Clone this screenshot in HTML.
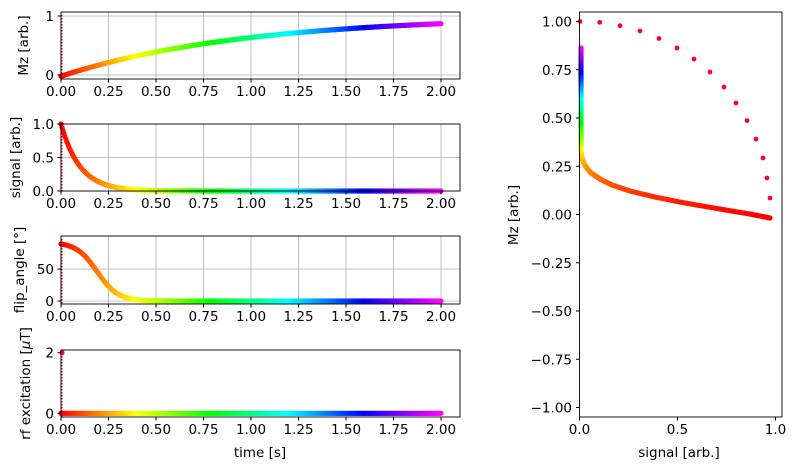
<!DOCTYPE html>
<html><head><meta charset="utf-8"><style>
body{margin:0;background:#fff}
svg{display:block;font-family:"DejaVu Sans","Liberation Sans",sans-serif;font-size:13.5px}
</style></head><body>
<svg id="s" width="793" height="470" xmlns="http://www.w3.org/2000/svg"></svg>
<script>
const S=document.getElementById('s');let h='';
function hsv(f){const hh=f*5,x=1-Math.abs(hh%2-1);let r,g,b;
if(hh<1)[r,g,b]=[1,x,0];else if(hh<2)[r,g,b]=[x,1,0];else if(hh<3)[r,g,b]=[0,1,x];else if(hh<4)[r,g,b]=[0,x,1];else if(hh<5)[r,g,b]=[x,0,1];else[r,g,b]=[1,0,1];
return `rgb(${Math.round(r*255)},${Math.round(g*255)},${Math.round(b*255)})`;}
const X=t=>61+t*190;
const panels=[
 {top:12,bot:79,y:v=>75-v*59,ticks:[[0,'0'],[1,'1']],grid:true,lab:'Mz [arb.]',lx:28,f:t=>1-1.02*Math.exp(-t/0.97)},
 {top:124,bot:191,y:v=>191-v*67,ticks:[[0,'0.0'],[0.5,'0.5'],[1,'1.0']],grid:true,lab:'signal [arb.]',lx:20,f:t=>Math.exp(-t/0.1)},
 {top:236,bot:304,y:v=>301-v*0.64,ticks:[[0,'0'],[50,'50']],grid:true,lab:'flip_angle [°]',lx:24,f:t=>92/(1+Math.exp((t-0.19)/0.055))},
 {top:350,bot:417,y:v=>413.3-v*30.3,ticks:[[0,'0'],[2,'2']],grid:false,lab:'rf excitation [<tspan font-style="italic">μ</tspan>T]',lx:30,f:t=>0}
];
const xt=[0,0.25,0.5,0.75,1,1.25,1.5,1.75,2];
panels.forEach((p,i)=>{
 if(p.grid){xt.forEach(t=>h+=`<line x1="${X(t)}" x2="${X(t)}" y1="${p.top}" y2="${p.bot}" stroke="#b0b0b0" stroke-width="0.8"/>`);
  p.ticks.forEach(([v])=>h+=`<line x1="61" x2="460" y1="${p.y(v)}" y2="${p.y(v)}" stroke="#b0b0b0" stroke-width="0.8"/>`);}
 for(let k=0;k<=400;k++){const t=k/200;h+=`<circle cx="${X(t).toFixed(1)}" cy="${p.y(p.f(t)).toFixed(1)}" r="2.6" fill="${hsv(t/2)}"/>`;}
 h+=`<line x1="61.5" x2="61.5" y1="${p.top+3}" y2="${p.bot}" stroke="#ff0030" stroke-width="2" stroke-dasharray="1.5 1.5"/>`;
 if(i==3)h+=`<circle cx="62" cy="${p.y(2)}" r="2.5" fill="#ff0030"/>`;
 h+=`<rect x="61" y="${p.top}" width="399" height="${p.bot-p.top}" fill="none" stroke="#000" stroke-width="0.9"/>`;
 xt.forEach(t=>{h+=`<line x1="${X(t)}" x2="${X(t)}" y1="${p.bot}" y2="${p.bot+3.5}" stroke="#000"/><text x="${X(t)}" y="${p.bot+17}" text-anchor="middle">${t.toFixed(2)}</text>`;});
 p.ticks.forEach(([v,l])=>{h+=`<line x1="57.5" x2="61" y1="${p.y(v)}" y2="${p.y(v)}" stroke="#000"/><text x="54" y="${p.y(v)+5}" text-anchor="end">${l}</text>`;});
 const cy=(p.top+p.bot)/2;
 h+=`<text transform="translate(${p.lx},${cy}) rotate(-90)" text-anchor="middle">${p.lab}</text>`;
});
h+=`<text x="260" y="457" text-anchor="middle">time [s]</text>`;
const RX=v=>579.5+v*196,RY=v=>214.5-v*193;
for(let y=48;y<=152;y+=0.7){const f=0.2+(152-y)/104*0.8;h+=`<circle cx="581" cy="${y.toFixed(1)}" r="2.6" fill="${hsv(f)}"/>`;}
const pts=[[581,152],[581.5,156],[583,161],[586,167],[591,173],[600,179],[612,185],[630,191],[655,197],[685,203],[720,209],[750,214],[770,218]];
let seg=[];for(let i=0;i<pts.length-1;i++){for(let k=0;k<20;k++){const a=k/20;seg.push([pts[i][0]+(pts[i+1][0]-pts[i][0])*a,pts[i][1]+(pts[i+1][1]-pts[i][1])*a]);}}
seg.push(pts[pts.length-1]);
const n=seg.length;
seg.forEach((q,j)=>{const a=j/(n-1);const f=0.2*Math.pow(1-a,1.6);
 h+=`<circle cx="${q[0].toFixed(1)}" cy="${q[1].toFixed(1)}" r="2.6" fill="${hsv(f)}"/>`;});
[[580,21.5],[599.7,22.3],[620,25.7],[640,31],[659,38.5],[677,48],[694,59],[710,72],[724,87],[736,103],[747,120.6],[756,139],[763,158],[767,178],[770,198]].forEach(q=>h+=`<circle cx="${q[0]}" cy="${q[1]}" r="2.4" fill="#ff0030"/>`);
h+=`<rect x="579.5" y="12" width="202.5" height="405" fill="none" stroke="#000" stroke-width="0.9"/>`;
[1,0.75,0.5,0.25,0,-0.25,-0.5,-0.75,-1].forEach(v=>{h+=`<line x1="576" x2="579.5" y1="${RY(v)}" y2="${RY(v)}" stroke="#000"/><text x="572" y="${RY(v)+5}" text-anchor="end">${v<0?'−':''}${Math.abs(v).toFixed(2)}</text>`;});
[0,0.5,1].forEach(v=>{h+=`<line x1="${RX(v)}" x2="${RX(v)}" y1="417" y2="420.5" stroke="#000"/><text x="${RX(v)}" y="434" text-anchor="middle">${v.toFixed(1)}</text>`;});
h+=`<text x="679" y="457" text-anchor="middle">signal [arb.]</text>`;
h+=`<text transform="translate(518,215) rotate(-90)" text-anchor="middle">Mz [arb.]</text>`;
S.innerHTML=h;
</script>
</body></html>
